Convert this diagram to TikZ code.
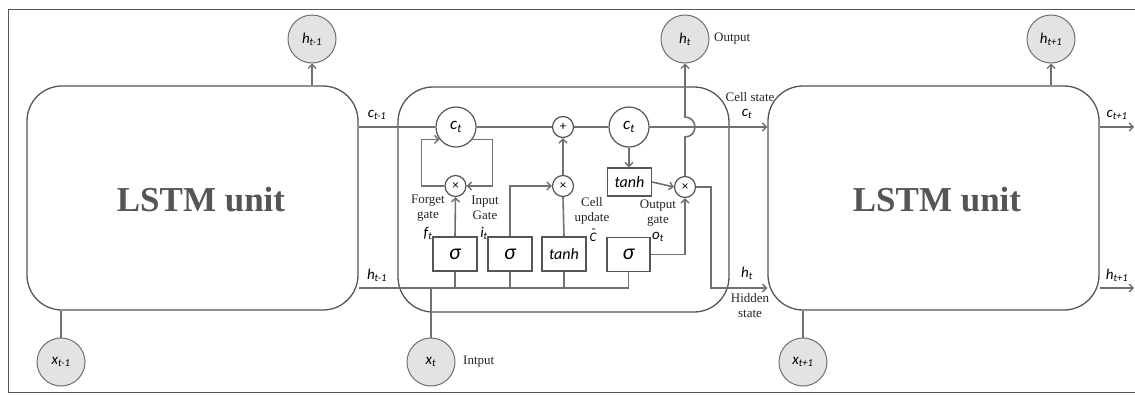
\documentclass[tikz,border=0pt]{standalone}
\usepackage{fontspec}
\setmainfont{Liberation Serif}
\newfontfamily\calfont{Carlito}
\usetikzlibrary{arrows.meta,calc}

\definecolor{ln}{HTML}{707070}
\definecolor{bd}{HTML}{555555}
\definecolor{cf}{HTML}{E3E3E3}
\newcommand{\sbs}[1]{\textsubscript{#1}}

\tikzset{
 ln/.style={draw=ln, line width=1.6pt},
 arr/.style={ln, -{Straight Barb[length=4pt,width=8pt,line width=1.4pt]}},
 unit/.style={draw=bd, line width=1.3pt, rounded corners=35pt, minimum width=331pt, minimum height=224pt, inner sep=0pt},
 iocirc/.style={circle, draw=ln, line width=1pt, fill=cf, minimum size=48pt, inner sep=0pt, font=\calfont\itshape\fontsize{15}{15}\selectfont},
 ccirc/.style={circle, draw=bd, line width=1.2pt, fill=white, minimum size=40pt, inner sep=0pt, font=\calfont\itshape\fontsize{17}{17}\selectfont},
 opc/.style={circle, draw=bd, line width=1.2pt, fill=white, minimum size=21pt, inner sep=0pt, font=\calfont\fontsize{13}{13}\selectfont},
 gbox/.style={rectangle, draw=bd, line width=1.2pt, fill=white, minimum width=44pt, minimum height=34pt, inner sep=0pt},
 sig/.style={gbox, font=\calfont\itshape\fontsize{22}{22}\selectfont},
 tnh/.style={gbox, font=\calfont\itshape\fontsize{16}{16}\selectfont},
 lbl/.style={font=\fontsize{13}{15}\selectfont, text=black!85, inner sep=0pt, align=center},
 ilbl/.style={font=\calfont\itshape\fontsize{15}{15}\selectfont, inner sep=0pt},
 big/.style={font=\bfseries\fontsize{35}{35}\selectfont, text=bd, inner sep=0pt},
}

\begin{document}
\begin{tikzpicture}[x=1pt,y=-1pt]
\useasboundingbox (0,0) rectangle (1135,394);
% frame
\draw[bd, line width=1pt] (1140,9) -- (8,9) -- (8,392) -- (1140,392);

% units
\node[unit] (box1) at (192.5,198) {};
\node[unit, minimum height=225pt] (box2) at (563.5,199.5) {};
\node[unit] (box3) at (933.5,198) {};
\node[big] (t1) at (201,200) {LSTM unit};
\node[big] (t3) at (937,200) {LSTM unit};

% io circles
\node[iocirc] (htm1) at (312,39) {h\sbs{t-1}};
\node[iocirc] (ht) at (685,39) {h\sbs{t}};
\node[iocirc] (htp1) at (1051,39) {h\sbs{t+1}};
\node[iocirc] (xtm1) at (61,362) {x\sbs{t-1}};
\node[iocirc] (xt) at (431,362) {x\sbs{t}};
\node[iocirc] (xtp1) at (803,362) {x\sbs{t+1}};

% inner nodes
\node[ccirc] (c1) at (456,127) {c\sbs{t}};
\node[ccirc] (c2) at (629,127) {c\sbs{t}};
\node[opc] (plus) at (563,127) {+};
\node[opc] (m1) at (455.5,186) {×};
\node[opc] (m2) at (563,186) {×};
\node[opc] (m3) at (685,187) {×};
\node[sig] (s1) at (455,254) {σ};
\node[sig] (s2) at (510,254) {σ};
\node[tnh] (th1) at (564,254) {tanh};
\node[sig, minimum width=43pt] (s3) at (628.5,254.5) {σ};
\node[tnh, minimum height=28pt] (th2) at (629.5,182) {tanh};

\coordinate (hc) at (711,288);
\coordinate (cend) at (1134,127);
\coordinate (hend) at (1134,288);

% cell state line
\draw[ln] (box1.east |- c1.west) -- (c1.west);
\draw[ln] (c1.east) -- (plus.west);
\draw[ln] (plus.east) -- (c2.west);
\draw[arr] (c2.east) -- (box3.west |- c2.east);
\draw[arr] (box3.east |- c2.east) -- (cend);

% hidden line
\draw[ln] (box1.east |- hc) -- (s3.south |- hc);
\draw[ln] (xt.north) -- (xt.north |- hc);
\draw[ln] (s1.south) -- (s1.south |- hc);
\draw[ln] (s2.south) -- (s2.south |- hc);
\draw[ln] (th1.south) -- (th1.south |- hc);
\draw[ln] (s3.south) -- (s3.south |- hc);

% forget loop
\draw[arr] (c1.-37) -- ([xshift=16pt]c1.-37 -| c1.east) |- (m1.east);
\draw[arr] (m1.west) -- ++(-23,0) |- (c1.217);
\draw[arr] (s1.north) -- (m1.south);

% input gate
\draw[arr] (s2.north) |- (m2.west);
\draw[ln] (th1.north) -- (m2.south);
\draw[arr] (m2.north) -- (plus.south);

% output
\draw[arr] (c2.south) -- (c2.south |- th2.north);
\draw[arr] (th2.east) -- (m3.west);
\draw[arr] (s3.east) -| (m3.south);
\draw[arr] (m3.north) -- ([yshift=-10pt]m3.north |- c2.center) arc[start angle=-90, end angle=90, radius=10pt] -- (ht.south);
\draw[arr] (m3.east) -| (hc) -- (box3.west |- hc);
\draw[arr] (box3.east |- hc) -- (hend);

% neighbours
\draw[arr] (htm1.south |- box1.north) -- (htm1.south);
\draw[arr] (htp1.south |- box3.north) -- (htp1.south);
\draw[ln] (xtm1.north) -- (xtm1.north |- box1.south);
\draw[ln] (xtp1.north) -- (xtp1.north |- box3.south);

% labels
\node[ilbl] (lc1) at (377,115) {c\sbs{t-1}};
\node[ilbl] (lh1) at (377,275) {h\sbs{t-1}};
\node[lbl] (lcs) at (750,97) {Cell state};
\node[ilbl] (lct) at (747,114) {c\sbs{t}};
\node[ilbl] (lht) at (747,273) {h\sbs{t}};
\node[lbl] (lhs) at (750,306) {Hidden\\state};
\node[ilbl] (lc3) at (1117,115) {c\sbs{t+1}};
\node[ilbl] (lh3) at (1117,275) {h\sbs{t+1}};
\node[lbl, anchor=west] (lout) at (714,39) {Output};
\node[lbl, anchor=west] (lin) at (463,362) {Intput};
\node[lbl] (lf) at (428,208) {Forget\\gate};
\node[ilbl] (lft) at (428,233) {f\sbs{t}};
\node[lbl] (li) at (485,208) {Input\\Gate};
\node[ilbl] (lit) at (484,233) {i\sbs{t}};
\node[lbl] (lcu) at (592,211) {Cell\\update};
\node[ilbl, font=\calfont\itshape\fontsize{13}{13}\selectfont] (lct2) at (593,237) {\ooalign{C\cr\hidewidth\raisebox{0.28em}{\char"02DC}\hidewidth\cr}};
\node[lbl] (lo) at (658,213) {Output\\gate};
\node[ilbl] (lot) at (658,237) {o\sbs{t}};
\end{tikzpicture}
\end{document}
